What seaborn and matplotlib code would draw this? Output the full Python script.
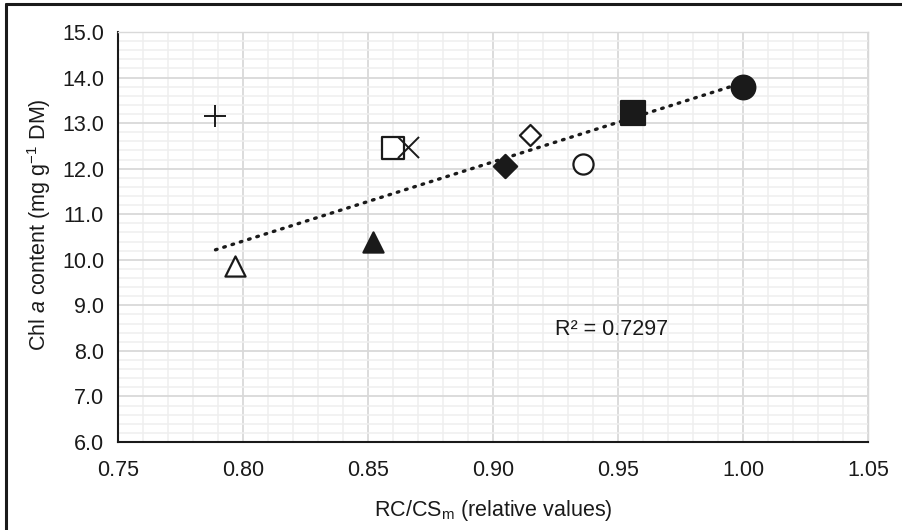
import numpy as np
import pandas as pd
import matplotlib.pyplot as plt
from matplotlib.lines import Line2D
from matplotlib.ticker import MultipleLocator
import seaborn as sns

# ---------- data ----------
rc_cs = [0.789, 0.797, 0.852, 0.860, 0.866, 0.905, 0.915, 0.936, 0.956, 1.000]
chl_a = [13.15, 9.87, 10.40, 12.45, 12.47, 12.05, 12.75, 12.10, 13.22, 13.80]
markers = ["+", "^", "^", "s", "x", "D", "D", "o", "s", "o"]
filled = [True, False, True, False, True, True, False, False, True, True]
sizes = [230, 210, 210, 260, 230, 140, 115, 210, 280, 290]
in_fit = [False, True, True, True, True, True, True, True, True, True]   # "+" left out of the trend
r2_label = "R² = 0.7297"

df = pd.DataFrame({"x": rc_cs, "y": chl_a, "fit": in_fit})

# ---------- style ----------
sns.set_style("white")
plt.rcParams["font.family"] = ["Liberation Sans", "DejaVu Sans"]
plt.rcParams["mathtext.fontset"] = "custom"
plt.rcParams["mathtext.rm"] = "Liberation Sans"
plt.rcParams["mathtext.it"] = "Liberation Sans:italic"

ink = "#1a1a1a"
fs = 15.5
fig = plt.figure(figsize=(9.02, 5.30), dpi=100)
ax = fig.add_axes([0.1308, 0.166, 0.8315, 0.7736])

# ---------- trend line (linear fit, drawn across the full x range) ----------
sub = df[df["fit"]]
slope, icpt = np.polyfit(sub["x"], sub["y"], 1)
xs = np.array([df["x"].min(), df["x"].max()])
sns.lineplot(x=xs, y=slope * xs + icpt, ax=ax, color=ink, lw=2.4,
             ls=(0, (0.5, 2.1)), dash_capstyle="round", zorder=3)

# ---------- points ----------
for xi, yi, m, f, s in zip(rc_cs, chl_a, markers, filled, sizes):
    if m in ("+", "x"):
        sns.scatterplot(x=[xi], y=[yi], marker=m, s=s, color=ink,
                        linewidth=1.4, ax=ax, zorder=4)
    else:
        sns.scatterplot(x=[xi], y=[yi], marker=m, s=s,
                        facecolor=ink if f else "white", edgecolor=ink,
                        linewidth=1.6, ax=ax, zorder=4)

# ---------- axes ----------
ax.set_xlim(0.75, 1.05)
ax.set_ylim(6.0, 15.0)
ax.xaxis.set_minor_locator(MultipleLocator(0.01))
ax.yaxis.set_minor_locator(MultipleLocator(0.2))
xt = np.arange(0.75, 1.0501, 0.05)
yt = np.arange(6.0, 15.01, 1.0)
ax.set_xticks(xt)
ax.set_xticklabels([f"{v:.2f}" for v in xt])
ax.set_yticks(yt)
ax.set_yticklabels([f"{v:.1f}" for v in yt])

ax.grid(which="major", color="#d9d9d9", lw=1.3)
ax.grid(which="minor", color="#efefef", lw=1.1)
ax.set_axisbelow(True)

for side in ("top", "right"):
    ax.spines[side].set_color("#d9d9d9")
    ax.spines[side].set_linewidth(1.0)
for side in ("left", "bottom"):
    ax.spines[side].set_color(ink)
    ax.spines[side].set_linewidth(1.5)

ax.tick_params(which="major", direction="out", length=6, width=1.5,
               color=ink, labelsize=fs, labelcolor=ink, pad=4)
ax.tick_params(axis="x", which="major", pad=7)
ax.tick_params(which="minor", length=0)

ax.set_xlabel(r"RC/CS$_{\rm m}$ (relative values)", fontsize=fs, color=ink, labelpad=12)
ax.set_ylabel(r"Chl $\it{a}$ content (mg g$^{-1}$ DM)", fontsize=fs, color=ink)
ax.yaxis.set_label_coords(-0.087, 0.53)

ax.text(0.9248, 8.46, r2_label, fontsize=fs, color=ink, va="center", ha="left")

# ---------- frame (left and top edges of the cropped outer box) ----------
fig.add_artist(Line2D([0.0062, 0.0062], [0, 0.993], color=ink, lw=2.2,
                      transform=fig.transFigure))
fig.add_artist(Line2D([0.0062, 1.0], [0.993, 0.993], color=ink, lw=2.2,
                      transform=fig.transFigure))

fig.savefig("out.png", dpi=100)
